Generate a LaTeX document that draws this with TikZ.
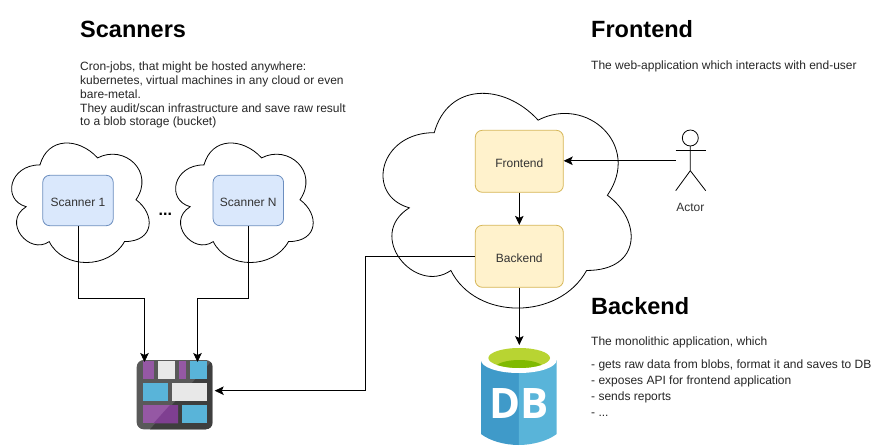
\documentclass[tikz,border=0pt]{standalone}
\usepackage{fontspec}
\setmainfont{Liberation Sans}
\newfontfamily\dbfont{Open Sans}
\usetikzlibrary{arrows.meta,calc}
\definecolor{bluef}{HTML}{DAE8FC}
\definecolor{blued}{HTML}{6C8EBF}
\definecolor{yelf}{HTML}{FFF2CC}
\definecolor{yeld}{HTML}{D6B656}
\definecolor{tilep}{HTML}{9558A4}
\definecolor{tilepd}{HTML}{7F3F91}
\definecolor{tileb}{HTML}{59B4D9}
\definecolor{tilew}{HTML}{E8E8E8}
\definecolor{azgrey}{HTML}{595959}
\definecolor{azdark}{HTML}{3E3E3E}
\definecolor{dbleft}{HTML}{3F9AC9}
\definecolor{dbright}{HTML}{59B4D9}
\definecolor{dbgreen}{HTML}{B8D432}
\definecolor{dbdeep}{HTML}{7FBA00}
\newcommand{\cloudpath}[4]{%
\begin{scope}[shift={(#1,#2)},x=#3pt,y=-#4pt]
\draw[cloudline] (.25,.25) .. controls (.05,.25) and (0,.5) .. (.16,.55)
 .. controls (0,.66) and (.18,.9) .. (.31,.8)
 .. controls (.4,1) and (.7,1) .. (.8,.8)
 .. controls (1,.8) and (1,.6) .. (.875,.5)
 .. controls (1,.3) and (.8,.1) .. (.625,.2)
 .. controls (.5,.05) and (.3,.05) .. (.25,.25) -- cycle;
\end{scope}}
\tikzset{
  x=1pt,y=-1pt,
  cloudline/.style={draw=black,line width=.8pt},
  bluebox/.style={draw=blued,fill=bluef,rounded corners=7pt,line width=.8pt,minimum width=70.5pt,minimum height=50.4pt,inner sep=0pt,text height=11.5pt,text depth=0pt,font=\fontsize{12}{14}\selectfont,text=black!80},
  yelbox/.style={draw=yeld,fill=yelf,rounded corners=7pt,line width=.8pt,minimum width=88pt,minimum height=62pt,inner sep=0pt,text height=11.5pt,text depth=0pt,font=\fontsize{12}{14}\selectfont,text=black!80},
  heading/.style={anchor=base west,inner sep=0pt,font=\fontsize{23.5}{27}\selectfont\bfseries},
  body/.style={anchor=north west,inner sep=0pt,align=left,font=\fontsize{12}{13.9}\selectfont,text=black!85},
  conn/.style={draw=black,line width=.8pt},
  arr/.style={conn,-{Stealth[length=9pt,width=8.5pt,inset=2pt]}},
  stick/.style={draw=black,line width=.8pt},
}
\begin{document}
\begin{tikzpicture}
\useasboundingbox (0,0) rectangle (886,446);
\fill[white] (0,0) rectangle (886,446);
% clouds
\cloudpath{1.6}{130}{153.6}{139.5}
\cloudpath{165.6}{130}{153.6}{139.5}
\cloudpath{365}{70}{277}{250.6}
% boxes
\node[bluebox] (s1) at (78,200.5) {Scanner 1};
\node[bluebox] (sn) at (248.3,200.5) {Scanner N};
\node[yelbox] (fe) at (519.3,161.3) {Frontend};
\node[yelbox] (be) at (519.3,256.3) {Backend};
\node[inner sep=0pt,font=\fontsize{16}{16}\selectfont\bfseries] (dots) at (165.3,214) {...};
% blob storage icon
\fill[azgrey,rounded corners=7pt] (136.7,360) rectangle (212.7,429.3);
\begin{scope}
\clip[rounded corners=7pt] (136.7,360) rectangle (212.7,429.3);
\fill[azdark] (150,429.3) -- (182,394) -- (212.7,360) -- (212.7,429.3) -- cycle;
\end{scope}
\fill[tilep] (142.7,360.7) rectangle (154,378.7);
\fill[tilew] (158.3,360.7) rectangle (175,378.7);
\fill[tilep] (179.3,360.7) rectangle (186,378.7);
\fill[tileb] (190,360.7) rectangle (207.3,378.7);
\fill[tileb] (142.7,382.7) rectangle (168,401.3);
\fill[tilew] (171.7,382.7) rectangle (207.3,401.3);
\fill[tilep] (142.7,405) rectangle (178,423.3);
\fill[tilepd] (153.5,423.3) -- (170,405) -- (178,405) -- (178,423.3) -- cycle;
\fill[tileb] (182,405) rectangle (207.3,423.3);
\node[inner sep=0pt,minimum width=76pt,minimum height=69.3pt] (blob) at (174.7,394.6) {};
% database icon
\fill[dbleft] (481,360) -- (481,434) .. controls (490,441) and (505,445) .. (518.8,445) -- (518.8,360) -- cycle;
\fill[dbright] (556.7,360) -- (556.7,434) .. controls (547.6,441) and (532,445) .. (518.8,445) -- (518.8,360) -- cycle;
\fill[white] (518.8,360) ellipse[x radius=37.85,y radius=13];
\fill[dbgreen] (519.2,358) ellipse[x radius=30.8,y radius=10];
\begin{scope}
\clip (519.2,358) ellipse[x radius=30.8,y radius=10];
\fill[dbdeep] (519.2,368) ellipse[x radius=24,y radius=8];
\end{scope}
\node[inner sep=0pt,text=white,font=\dbfont\fontsize{42}{42}\selectfont\bfseries] (dbl) at (518.8,404) {DB};
\node[inner sep=0pt,minimum width=75.7pt,minimum height=98pt] (db) at (518.8,396) {};
% actor
\draw[stick] (690.3,138) circle[radius=8];
\draw[stick] (690.3,146) -- (690.3,170.7) -- (675.7,190.7);
\draw[stick] (690.3,170.7) -- (705.7,190.7);
\draw[stick] (675.7,150.3) -- (705.7,150.3);
\node[inner sep=0pt,font=\fontsize{12}{14}\selectfont,text=black!80] (actorlabel) at (690.3,207) {Actor};
\coordinate (actor) at (675.7,160.8);
% connector helpers
\coordinate (b1turn) at (144.5,298);
\coordinate (b1in) at (144.5,362);
\coordinate (b2turn) at (197.5,298);
\coordinate (b2in) at (197.5,362);
\coordinate (b3turn) at (365.7,390.7);
\coordinate (b3in) at (214.7,390.7);
\coordinate (dbin) at (519.3,345);
% connectors
\draw[arr] (s1.south) |- (b1turn) -- (b1in);
\draw[arr] (sn.south) |- (b2turn) -- (b2in);
\draw[arr] (be.west) -| (b3turn) -- (b3in);
\draw[arr] (actor) -- (fe.east |- actor);
\draw[arr] (fe.south) -- (be.north);
\draw[arr] (be.south) -- (dbin);
% texts
\node[heading] (h1) at (80,38) {Scanners};
\node[heading] (h2) at (591,38) {Frontend};
\node[heading] (h3) at (591,314) {Backend};
\node[body] (t1) at (80,61.5) {Cron-jobs, that might be hosted anywhere:\\kubernetes, virtual machines in any cloud or even\\bare-metal.\\They audit/scan infrastructure and save raw result\\to a blob storage (bucket)};
\node[body] (t2) at (591,61) {The web-application which interacts with end-user};
\node[body] (t3) at (591,337) {The monolithic application, which};
\node[body,font=\fontsize{12}{16}\selectfont] (t4) at (591,359.5) {- gets raw data from blobs, format it and saves to DB\\- exposes API for frontend application\\- sends reports\\- ...};
\end{tikzpicture}
\end{document}
